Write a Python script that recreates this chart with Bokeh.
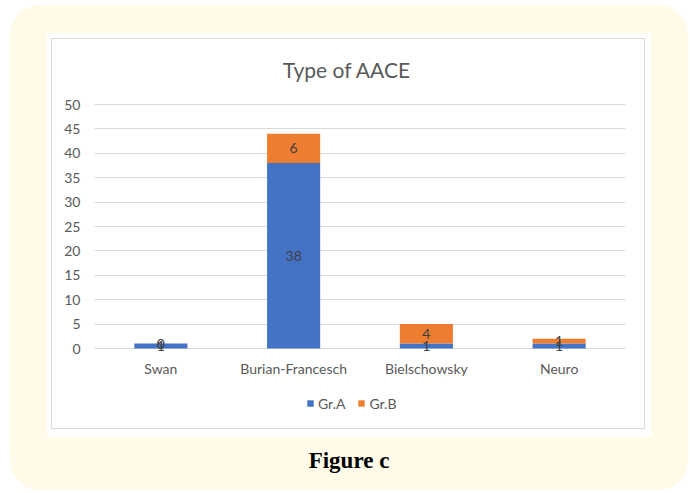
from bokeh.plotting import figure
from bokeh.models import (ColumnDataSource, FactorRange, Range1d, Label,
                          Legend, LegendItem, SingleIntervalTicker)
from bokeh.core.properties import value
from bokeh.embed import file_html
from bokeh.resources import INLINE

# ---- data ----
categories = ["Swan", "Burian-Francesch", "Bielschowsky", "Neuro"]
gr_a = [1, 38, 1, 1]
gr_b = [0, 6, 4, 1]
series_names = ["Gr.A", "Gr.B"]
y_ticks_max = 50
y_tick_step = 5
chart_title = "Type of AACE"
caption = "Figure c"

# ---- layout constants (page pixels; figure is placed at page (10, 5)) ----
OX, OY = 10, 5
W, H = 678, 485
PLOT_L, PLOT_R = 94, 625        # plot area left/right (page px)
Y0_PAGE, YMAX_PAGE = 348, 104   # page rows of y=0 and y=50
FRAME_T, FRAME_B = 45, 483      # frame top/bottom (page px)
BAND = (PLOT_R - PLOT_L) / len(categories)
PPU = (Y0_PAGE - YMAX_PAGE) / y_ticks_max


def dx(page_x):
    return (page_x - PLOT_L) / BAND


def dy(page_y):
    return (Y0_PAGE - page_y) / PPU


BLUE = "#4472C4"
ORANGE = "#ED7D31"
GRAY_TXT = "#595959"
YELLOW = "#FFFBE8"
FONT = "Lato"

bg = ("linear-gradient(#fff,#fff) 42px 34px / 592px 389px no-repeat, "
      "linear-gradient(#D9D9D9,#D9D9D9) 41px 33px / 594px 391px no-repeat, "
      "linear-gradient(#fff,#fff) 37px 28px / 604px 404px no-repeat, " + YELLOW)

p = figure(width=W, height=H, output_backend="svg", toolbar_location=None,
           x_range=FactorRange(*categories),
           y_range=Range1d(dy(FRAME_B), dy(FRAME_T)),
           min_border_left=PLOT_L - OX, min_border_right=W - (PLOT_R - OX),
           min_border_top=FRAME_T - OY, min_border_bottom=H - (FRAME_B - OY),
           frame_width=PLOT_R - PLOT_L, frame_height=FRAME_B - FRAME_T,
           background_fill_alpha=0, border_fill_alpha=0,
           margin=(OY, 2, 3, OX),
           styles={"background": bg, "border-radius": "30px"})
p.outline_line_color = None

src = ColumnDataSource(dict(cat=categories, A=gr_a, B=gr_b))
rs = p.vbar_stack(["A", "B"], x="cat", width=0.4, source=src,
                  color=[BLUE, ORANGE], line_color=None)

# data labels
lab_x, lab_y, lab_t = [], [], []
for c, a, b in zip(categories, gr_a, gr_b):
    lab_x += [c, c]
    lab_y += [a / 2.0, a + b / 2.0]
    lab_t += [str(a), str(b)]
p.text(x=lab_x, y=lab_y, text=lab_t, text_align="center", text_baseline="middle",
       text_font=value(FONT), text_font_size="14px", text_color="#404040")

# category labels (drawn under the zero line)
p.text(x=categories, y=[dy(368)] * len(categories), text=categories,
       text_align="center", text_baseline="middle",
       text_font=value(FONT), text_font_size="14px", text_color=GRAY_TXT)

# grid / axes
p.xaxis.visible = False
p.xgrid.grid_line_color = None
p.ygrid.grid_line_color = "#D9D9D9"
p.ygrid.ticker = SingleIntervalTicker(interval=y_tick_step)
p.ygrid.bounds = (0, y_ticks_max)
p.yaxis.ticker = SingleIntervalTicker(interval=y_tick_step)
p.yaxis.bounds = (0, y_ticks_max)
ax = p.yaxis[0]
ax.axis_line_color = None
ax.major_tick_line_color = None
ax.minor_tick_line_color = None
ax.major_tick_out = 0
ax.major_tick_in = 0
ax.minor_tick_out = 0
ax.major_label_text_color = GRAY_TXT
ax.major_label_text_font = FONT
ax.major_label_text_font_size = "14px"
ax.major_label_standoff = 14

# title and caption
p.add_layout(Label(x=dx(346.5), y=dy(69), text=chart_title,
                   text_align="center", text_baseline="middle", text_font=FONT,
                   text_font_size="21px", text_color=GRAY_TXT))
p.add_layout(Label(x=dx(348.5), y=dy(460), text=caption,
                   text_align="center", text_baseline="middle",
                   text_font="Liberation Serif", text_font_style="bold",
                   text_font_size="23px", text_color="black"))

# legend
legend = Legend(items=[LegendItem(label=n, renderers=[r]) for n, r in zip(series_names, rs)],
                orientation="horizontal", location=(306 - PLOT_L, FRAME_B - 403 - 8.5),
                glyph_width=8, glyph_height=8, label_standoff=4, spacing=12,
                padding=0, margin=0, border_line_color=None, background_fill_alpha=0,
                label_text_font=FONT, label_text_font_size="14px",
                label_text_color=GRAY_TXT, label_height=17)
p.add_layout(legend, "center")

open("out.html", "w").write(file_html(p, INLINE))
